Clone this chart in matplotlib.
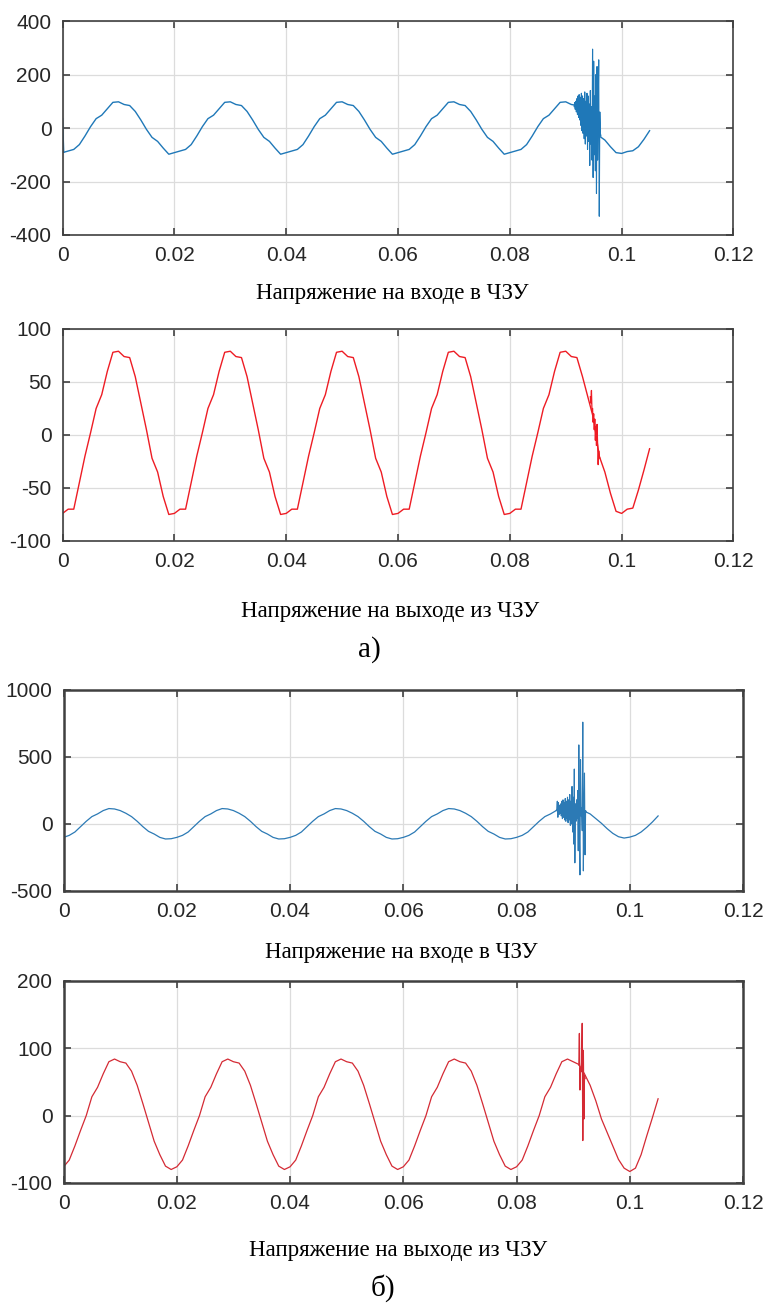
import matplotlib
matplotlib.use('Agg')
import matplotlib.pyplot as plt
import numpy as np

plt.rcParams['axes.unicode_minus'] = False

# время, шаг 1 мс
t = np.round(np.arange(106) * 0.001, 4)

# а) напряжение на входе в ЧЗУ
u_in_a = [-92, -86, -80, -62, -30, 5, 35, 48, 72, 96, 98, 88, 84, 62, 30, -5, -35, -50, -75, -98,
          -92, -86, -80, -62, -30, 5, 35, 48, 72, 96, 98, 88, 84, 62, 30, -5, -35, -50, -75, -98,
          -92, -86, -80, -62, -30, 5, 35, 48, 72, 96, 98, 88, 84, 62, 30, -5, -35, -50, -75, -98,
          -92, -86, -80, -62, -30, 5, 35, 48, 72, 96, 98, 88, 84, 62, 30, -5, -35, -50, -75, -98,
          -92, -86, -80, -62, -30, 5, 35, 48, 72, 96, 98, 88, 84, 62, 30, -5, -30, -45, -70, -92,
          -95, -88, -85, -70, -42, -10]
start_a_t = [0.0, 0.0002]
start_a_v = [35, -90]
burst_in_a_t = [0.0915, 0.0916, 0.0917, 0.0918, 0.0919, 0.0920, 0.0921, 0.0922, 0.0923, 0.0924,
                0.0925, 0.0926, 0.0927, 0.0928, 0.0929, 0.0930, 0.0931, 0.0932, 0.0933, 0.0934,
                0.0935, 0.0936, 0.0937, 0.0938, 0.0939, 0.0940, 0.0941, 0.0942, 0.0943, 0.0944,
                0.0945, 0.0946, 0.0947, 0.0948, 0.0949, 0.0950, 0.0951, 0.0952, 0.0953, 0.0954,
                0.0955, 0.0956, 0.0957, 0.0958, 0.0959, 0.0960, 0.0961, 0.0962, 0.0963]
burst_in_a_v = [80, 95, 70, 100, 60, 110, 50, 120, 40, 125,
                30, 115, 10, 130, -10, 120, -20, 110, -40, 135,
                -60, 100, -30, 130, -80, 120, -50, 90, -140, 140,
                -60, 80, -120, 295, -185, 250, -100, 120, -160, 200,
                -245, 230, -120, 60, 255, -330, 60, -20, -30]

# а) напряжение на выходе из ЧЗУ
u_out_a = [-74, -70, -70, -45, -20, 2, 25, 38, 60, 78, 79, 74, 73, 55, 30, 5, -22, -35, -58, -75,
           -74, -70, -70, -45, -20, 2, 25, 38, 60, 78, 79, 74, 73, 55, 30, 5, -22, -35, -58, -75,
           -74, -70, -70, -45, -20, 2, 25, 38, 60, 78, 79, 74, 73, 55, 30, 5, -22, -35, -58, -75,
           -74, -70, -70, -45, -20, 2, 25, 38, 60, 78, 79, 74, 73, 55, 30, 5, -22, -35, -58, -75,
           -74, -70, -70, -45, -20, 2, 25, 38, 60, 78, 79, 74, 73, 55, 35, 15, -20, -35, -55, -72,
           -74, -70, -69, -52, -33, -13]
burst_out_a_t = [0.0944, 0.0945, 0.0946, 0.0947, 0.0948, 0.0949, 0.0950, 0.0951, 0.0952, 0.0953,
                 0.0954, 0.0955, 0.0956, 0.0957, 0.0958, 0.0959, 0.0960, 0.0961]
burst_out_a_v = [36, 30, 42, 22, 25, 12, 20, 5, 15, -5, 8, -10, 10, -8, -28, -15, -20, -22]

# б) напряжение на входе в ЧЗУ
u_in_b = [-100, -85, -60, -20, 20, 55, 75, 100, 115, 112, 100, 80, 55, 20, -20, -55, -75, -100, -112, -110,
          -100, -85, -60, -20, 20, 55, 75, 100, 115, 112, 100, 80, 55, 20, -20, -55, -75, -100, -112, -110,
          -100, -85, -60, -20, 20, 55, 75, 100, 115, 112, 100, 80, 55, 20, -20, -55, -75, -100, -112, -110,
          -100, -85, -60, -20, 20, 55, 75, 100, 115, 112, 100, 80, 55, 20, -20, -55, -75, -100, -112, -110,
          -100, -85, -60, -20, 20, 55, 75, 100, 115, 112, 105, 100, 95, 75, 40, 5, -35, -70, -95, -105,
          -98, -85, -60, -25, 15, 60]
burst_in_b_t = [0.0870, 0.0871, 0.0872, 0.0873, 0.0874, 0.0875, 0.0876, 0.0877, 0.0878, 0.0879,
                0.0880, 0.0881, 0.0882, 0.0883, 0.0884, 0.0885, 0.0886, 0.0887, 0.0888, 0.0889,
                0.0890, 0.0891, 0.0892, 0.0893, 0.0894, 0.0895, 0.0896, 0.0897, 0.0898, 0.0899,
                0.0900, 0.0901, 0.0902, 0.0903, 0.0904, 0.0905, 0.0906, 0.0907, 0.0908, 0.0909,
                0.0910, 0.0911, 0.0912, 0.0913, 0.0914, 0.0915, 0.0916, 0.0917, 0.0918, 0.0919,
                0.0920, 0.0921, 0.0922, 0.0923]
burst_in_b_v = [100, 110, 170, 50, 160, 70, 140, 80, 150, 60,
                170, 40, 180, 50, 160, 30, 190, 20, 170, 40,
                200, 10, 180, 30, 220, -10, 170, 0, 280, -60,
                200, -150, 410, -290, 150, 20, 180, 40, 250, -200,
                590, -100, -380, 480, 60, 120, -50, 760, -350, 110,
                380, -230, 100, 90]

# б) напряжение на выходе из ЧЗУ
u_out_b = [-76, -66, -45, -22, 0, 28, 42, 62, 80, 84, 80, 78, 66, 45, 18, -10, -38, -58, -75, -80,
           -76, -66, -45, -22, 0, 28, 42, 62, 80, 84, 80, 78, 66, 45, 18, -10, -38, -58, -75, -80,
           -76, -66, -45, -22, 0, 28, 42, 62, 80, 84, 80, 78, 66, 45, 18, -10, -38, -58, -75, -80,
           -76, -66, -45, -22, 0, 28, 42, 62, 80, 84, 80, 78, 66, 45, 18, -10, -38, -58, -75, -80,
           -76, -66, -45, -22, 0, 28, 42, 62, 80, 84, 80, 76, 62, 45, 22, -5, -25, -45, -65, -78,
           -83, -78, -58, -30, -3, 25]
burst_out_b_t = [0.0910, 0.0911, 0.0912, 0.0913, 0.0914, 0.0915, 0.0916, 0.0917, 0.0918, 0.0919,
                 0.0920, 0.0921]
burst_out_b_v = [75, 122, 38, 70, 65, 80, 137, -37, 97, -5, 60, 55]

x_ticks = [0, 0.02, 0.04, 0.06, 0.08, 0.1, 0.12]
x_labels = ['0', '0.02', '0.04', '0.06', '0.08', '0.1', '0.12']

caption_in = 'Напряжение на входе в ЧЗУ'
caption_out = 'Напряжение на выходе из ЧЗУ'

blue_a = '#1F78B8'
blue_b = '#2C7AB5'
red_a = '#EE1C24'
red_b = '#D42A34'

fig = plt.figure(figsize=(7.66, 13.07), dpi=100)


def setup(ax, yticks, spine_w):
    ax.set_xlim(0, 0.12)
    ax.set_ylim(yticks[0], yticks[-1])
    ax.set_xticks(x_ticks)
    ax.set_xticklabels(x_labels)
    ax.set_yticks(yticks)
    ax.set_yticklabels([str(v) for v in yticks])
    ax.grid(True, color='#dcdcdc', linewidth=0.9)
    ax.set_axisbelow(True)
    ax.tick_params(direction='in', top=True, right=True, length=5, width=1.2,
                   colors='#404040', labelcolor='#262626', labelsize=15, pad=8)
    for lab in ax.get_xticklabels() + ax.get_yticklabels():
        lab.set_family('Liberation Sans')
    for s in ax.spines.values():
        s.set_color('#404040')
        s.set_linewidth(spine_w)


# а) вход
ax1 = fig.add_axes([0.0817, 0.8202, 0.8758, 0.1637])
ax1.plot(t, u_in_a, color=blue_a, linewidth=1.0)
ax1.plot(start_a_t, start_a_v, color=blue_a, linewidth=1.0)
ax1.plot(burst_in_a_t, burst_in_a_v, color=blue_a, linewidth=0.8)
setup(ax1, [-400, -200, 0, 200, 400], 1.2)

# а) выход
ax2 = fig.add_axes([0.0817, 0.5861, 0.8758, 0.1622])
ax2.plot(t, u_out_a, color=red_a, linewidth=1.0)
ax2.plot(burst_out_a_t, burst_out_a_v, color=red_a, linewidth=0.9)
setup(ax2, [-100, -50, 0, 50, 100], 1.2)

# б) вход
ax3 = fig.add_axes([0.083, 0.3183, 0.887, 0.1538])
ax3.plot(t, u_in_b, color=blue_b, linewidth=0.9)
ax3.plot(burst_in_b_t, burst_in_b_v, color=blue_b, linewidth=0.8)
setup(ax3, [-500, 0, 500, 1000], 1.8)

# б) выход
ax4 = fig.add_axes([0.083, 0.0949, 0.887, 0.1546])
ax4.plot(t, u_out_b, color=red_b, linewidth=0.9)
ax4.plot(burst_out_b_t, burst_out_b_v, color=red_b, linewidth=0.9)
setup(ax4, [-100, 0, 100, 200], 1.8)

# подписи
fig.text(0.512, 0.7758, caption_in, ha='center', va='center', family='Liberation Serif', fontsize=16.5)
fig.text(0.509, 0.5318, caption_out, ha='center', va='center', family='Liberation Serif', fontsize=16.5)
fig.text(0.482, 0.5027, 'а)', ha='center', va='center', family='Liberation Serif', fontsize=21)
fig.text(0.5235, 0.2709, caption_in, ha='center', va='center', family='Liberation Serif', fontsize=16.5)
fig.text(0.5196, 0.0436, caption_out, ha='center', va='center', family='Liberation Serif', fontsize=16.5)
fig.text(0.50, 0.0145, 'б)', ha='center', va='center', family='Liberation Serif', fontsize=21)

fig.savefig('out.png', dpi=100)
